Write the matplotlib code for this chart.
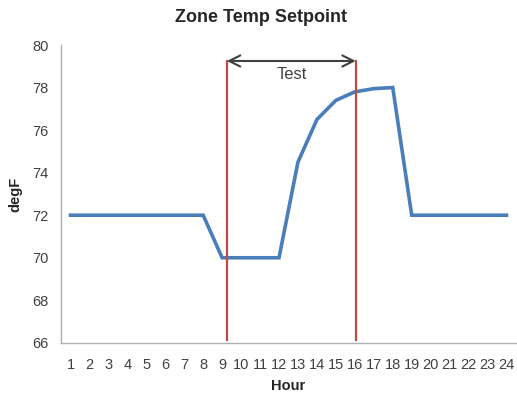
import matplotlib.pyplot as plt

plt.rcParams["font.family"] = ["Liberation Sans", "DejaVu Sans"]

# --- Data ---
hours = list(range(1, 25))
setpoint = [72, 72, 72, 72, 72, 72, 72, 72, 70, 70, 70, 70,
            74.5, 76.5, 77.4, 77.8, 77.95, 78.0, 72, 72, 72, 72, 72, 72]
test_start = 9.25
test_end = 16.05
marker_bottom = 66.15
marker_top = 79.25

# --- Plot ---
fig = plt.figure(figsize=(5.17, 3.95), dpi=100)
ax = fig.add_axes([0.118, 0.132, 0.880, 0.754])

ax.plot(hours, setpoint, color="#4a7ebb", linewidth=2.6, solid_joinstyle="miter")

for h in (test_start, test_end):
    ax.plot([h, h], [marker_bottom, marker_top], color="#be4b48", linewidth=1.6)

ax.annotate("", xy=(test_start, marker_top), xytext=(test_end, marker_top),
            arrowprops=dict(arrowstyle="<->", color="#404040", lw=1.5,
                            shrinkA=0, shrinkB=0, mutation_scale=20))
ax.text((test_start + test_end) / 2, 78.6, "Test", ha="center", va="center",
        fontsize=12, color="#404040")

ax.set_xlim(0.5, 24.5)
ax.set_ylim(66, 80)
ax.set_xticks(hours)
ax.set_yticks(range(66, 81, 2))
ax.tick_params(length=0, labelsize=10.5, labelcolor="#404040")
ax.tick_params(axis="x", pad=11)
ax.tick_params(axis="y", pad=9)

for side in ("top", "right"):
    ax.spines[side].set_visible(False)
for side in ("left", "bottom"):
    ax.spines[side].set_color("#b0b0b0")
    ax.spines[side].set_linewidth(1)

fig.text(0.505, 0.955, "Zone Temp Setpoint", ha="center", va="center",
         fontsize=13, fontweight="bold", color="#262626")
ax.set_xlabel("Hour", fontsize=10.5, fontweight="bold", color="#262626", labelpad=5)
ax.set_ylabel("degF", fontsize=10.5, fontweight="bold", color="#262626", labelpad=7)

fig.savefig("out.png", dpi=100)
